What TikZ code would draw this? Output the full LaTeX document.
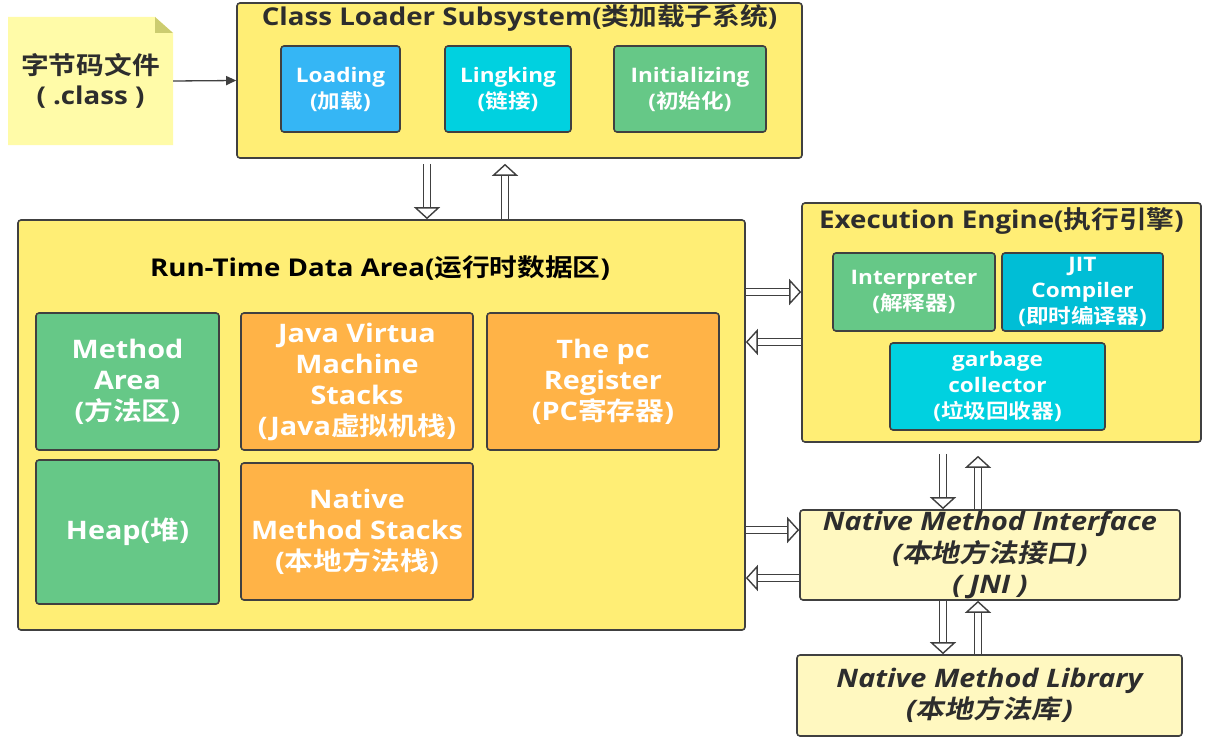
\documentclass[tikz,border=0pt]{standalone}
\usepackage{fontspec}
\setmainfont{Open Sans}[FakeStretch=1.13]
\newfontfamily\cjk{Noto Sans CJK SC}[BoldFont={Noto Sans CJK SC Bold}, ItalicFont={Noto Sans CJK SC}, ItalicFeatures={FakeSlant=0.2}, BoldItalicFont={Noto Sans CJK SC Bold}, BoldItalicFeatures={FakeSlant=0.2}, FakeStretch=1.13]
\usetikzlibrary{arrows.meta, positioning}
\definecolor{jvmyellow}{RGB}{255,238,117}
\definecolor{noteyellow}{RGB}{255,251,168}
\definecolor{notefold}{RGB}{204,204,112}
\definecolor{nativeyellow}{RGB}{255,248,192}
\definecolor{jvmblue}{RGB}{53,182,245}
\definecolor{jvmcyan}{RGB}{0,209,224}
\definecolor{jvmteal}{RGB}{0,190,214}
\definecolor{jvmgreen}{RGB}{102,200,135}
\definecolor{jvmorange}{RGB}{255,179,71}
\definecolor{jvmline}{RGB}{64,64,64}
\newcommand{\zh}[1]{{\cjk #1}}

\begin{document}
\begin{tikzpicture}[x=1pt, y=-1pt]
    \tikzstyle{area} = [rectangle, rounded corners=3pt, draw=jvmline, line width=1.6pt, fill=jvmyellow, inner sep=0pt]
    \tikzstyle{part} = [rectangle, rounded corners=3pt, draw=jvmline, line width=1.6pt, inner sep=0pt, text=white, align=center, font=\bfseries\fontsize{20}{26}\selectfont]
    \tikzstyle{big} = [part, font=\bfseries\fontsize{25.5}{31}\selectfont]
    \tikzstyle{native} = [area, fill=nativeyellow, align=center, text=jvmline!70!black, font=\bfseries\itshape\fontsize{25.5}{31.5}\selectfont]
    \tikzstyle{title} = [text=jvmline!70!black, font=\bfseries\fontsize{24.5}{28}\selectfont]
    \tikzstyle{harrow} = [draw=jvmline, line width=1.4pt, double=white, double distance=6pt, -{Triangle[length=12pt, width=26pt, fill=white]}]

    \useasboundingbox[fill=white] (0,0) rectangle (1214,741);

    % bytecode file
    \fill[noteyellow] (8,17) -- (155,17) -- (173,33) -- (173,145) -- (8,145) -- cycle;
    \fill[notefold] (155,17) -- (173,33) -- (155,33) -- cycle;
    \node[font=\bfseries\fontsize{24.5}{30}\selectfont, align=center, text=jvmline!70!black, minimum width=165, minimum height=128, inner sep=0pt] (bcode) at (90.5,81) {\zh{字节码文件}\\( .class )};

    % class loader
    \node[area, minimum width=565, minimum height=155] (cls) at (519.5,80.5) {};
    \node[title] (clstitle) at (519.5,18) {Class Loader Subsystem(\zh{类加载子系统})};
    \node[part, fill=jvmblue, minimum width=119, minimum height=86] (load) at (340.5,89) {Loading\\(\zh{加载})};
    \node[part, fill=jvmcyan, minimum width=126, minimum height=86] (link) at (508,89) {Lingking\\(\zh{链接})};
    \node[part, fill=jvmgreen, minimum width=152, minimum height=86] (init) at (690,89) {Initializing\\(\zh{初始化})};

    % run-time data area
    \node[area, minimum width=727, minimum height=410] (rtda) at (381.5,425) {};
    \node[title, text=black] (rtdatitle) at (380,268) {Run-Time Data Area(\zh{运行时数据区})};
    \node[big, fill=jvmgreen, minimum width=183, minimum height=137] (method) at (127.5,381.5) {Method\\Area\\(\zh{方法区})};
    \node[big, fill=jvmorange, minimum width=232, minimum height=137] (jvms) at (357,381.5) {Java Virtua\\Machine\\Stacks\\(Java\zh{虚拟机栈})};
    \node[big, fill=jvmorange, minimum width=232, minimum height=137] (pc) at (603,381.5) {The pc\\Register\\(PC\zh{寄存器})};
    \node[big, fill=jvmgreen, minimum width=183, minimum height=144] (heap) at (127.5,532) {Heap(\zh{堆})};
    \node[big, fill=jvmorange, minimum width=232, minimum height=137] (nms) at (357,531.5) {Native\\Method Stacks\\(\zh{本地方法栈})};

    % execution engine
    \node[area, minimum width=399, minimum height=239] (ee) at (1001.5,322.5) {};
    \node[title] (eetitle) at (1001.5,221) {Execution Engine(\zh{执行引擎})};
    \node[part, fill=jvmgreen, minimum width=162, minimum height=78] (interp) at (914,292) {Interpreter\\(\zh{解释器})};
    \node[part, fill=jvmteal, minimum width=161, minimum height=78] (jit) at (1082.5,292) {JIT\\Compiler\\(\zh{即时编译器})};
    \node[part, fill=jvmcyan, minimum width=215, minimum height=87] (gc) at (997.5,386.5) {garbage\\collector\\(\zh{垃圾回收器})};

    % native
    \node[native, minimum width=380, minimum height=90] (nmi) at (990,555) {Native Method Interface\\(\zh{本地方法接口}\kern3pt)\\( JNI )};
    \node[native, minimum width=385, minimum height=81] (nml) at (989.5,695.5) {Native Method Library\\(\zh{本地方法库}\kern3pt)};

    \draw[-{Triangle[length=10pt, width=9pt]}, line width=1.3pt, jvmline] (bcode.east) -- (cls.west);
    \draw[harrow] ([xshift=-92.5pt, yshift=-5pt]cls.south) -- ([xshift=45.5pt]rtda.north);
    \draw[harrow] ([xshift=123.5pt]rtda.north) -- ([xshift=-14.5pt, yshift=-5pt]cls.south);
    \draw[harrow] ([yshift=133pt]rtda.east) -- ([yshift=30.5pt]ee.west);
    \draw[harrow] ([yshift=-19.5pt]ee.west) -- ([yshift=83pt]rtda.east);
    \draw[harrow] ([yshift=-105pt]rtda.east) -- ([yshift=25pt]nmi.west);
    \draw[harrow] ([yshift=-23pt]nmi.west) -- ([yshift=-153pt]rtda.east);
    \draw[harrow] ([xshift=-58.5pt, yshift=-11pt]ee.south) -- ([xshift=-47pt]nmi.north);
    \draw[harrow] ([xshift=-12pt]nmi.north) -- ([xshift=-23.5pt, yshift=-13pt]ee.south);
    \draw[harrow] ([xshift=-47pt]nmi.south) -- ([xshift=-46.5pt]nml.north);
    \draw[harrow] ([xshift=-11.5pt]nml.north) -- ([xshift=-12pt]nmi.south);
\end{tikzpicture}
\end{document}
